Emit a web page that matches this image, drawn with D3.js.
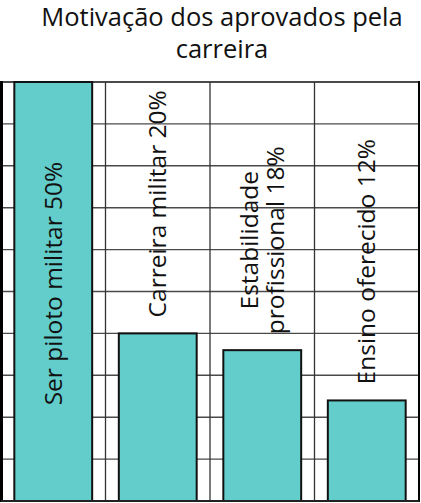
<!DOCTYPE html>
<html>
<head>
<meta charset="utf-8">
<script src="https://cdn.jsdelivr.net/npm/d3@7"></script>
<style>
  body { margin: 0; background: #fff; }
  text { font-family: "Open Sans", sans-serif; fill: #111; }
</style>
</head>
<body>
<svg id="chart"></svg>
<script>
// chart data
var categories = ["Ser piloto militar", "Carreira militar", "Estabilidade profissional", "Ensino oferecido"];
var values = [50, 20, 18, 12];
var labelLines = [
    ["Ser piloto militar 50%"],
    ["Carreira militar 20%"],
    ["Estabilidade", "profissional 18%"],
    ["Ensino oferecido 12%"]
];
var yTicks = [0, 5, 10, 15, 20, 25, 30, 35, 40, 45, 50];
var titleLines = ["Motivação dos aprovados pela", "carreira"];

var width = 421, height = 503;
var svg = d3.select("#chart").attr("width", width).attr("height", height);

// plot area (note: "top" is taken by window.top, so prefix these)
var plotLeft = 1, plotRight = 419, plotTop = 82, plotBottom = 501;

var xScale = d3.scaleBand()
    .domain(categories)
    .range([plotLeft, plotRight])
    .padding(0);

var yScale = d3.scaleLinear()
    .domain([0, 50])
    .range([plotBottom, plotTop]);

var barWidth = xScale.bandwidth() * 0.745;

// title
svg.append("g").selectAll("text")
    .data(titleLines)
    .enter().append("text")
    .attr("x", 222)
    .attr("y", function (d, i) { return 26 + i * 32; })
    .attr("text-anchor", "middle")
    .style("font-size", "25.5px")
    .text(function (d) { return d; });

// horizontal grid
svg.append("g").selectAll("line")
    .data(yTicks)
    .enter().append("line")
    .attr("x1", plotLeft).attr("x2", plotRight)
    .attr("y1", function (d) { return yScale(d); })
    .attr("y2", function (d) { return yScale(d); })
    .attr("stroke", "#4a4a4a")
    .attr("stroke-width", function (d) { return d === 50 ? 2 : 1.4; });

// vertical separators between categories
svg.append("g").selectAll("line")
    .data(categories.slice(1))
    .enter().append("line")
    .attr("x1", function (d) { return xScale(d); })
    .attr("x2", function (d) { return xScale(d); })
    .attr("y1", plotTop).attr("y2", plotBottom)
    .attr("stroke", "#333")
    .attr("stroke-width", 1.3);

// bars
svg.append("g").selectAll("rect")
    .data(values)
    .enter().append("rect")
    .attr("x", function (d, i) { return xScale(categories[i]) + (xScale.bandwidth() - barWidth) / 2; })
    .attr("y", function (d) { return yScale(d); })
    .attr("width", barWidth)
    .attr("height", function (d) { return yScale(0) - yScale(d); })
    .attr("fill", "#62cdca")
    .attr("stroke", "#111")
    .attr("stroke-width", 2);

// frame
svg.append("line").attr("x1", 1.5).attr("x2", 1.5).attr("y1", plotTop - 1).attr("y2", plotBottom + 1)
    .attr("stroke", "#000").attr("stroke-width", 3);
svg.append("line").attr("x1", plotRight).attr("x2", plotRight).attr("y1", plotTop - 1).attr("y2", plotBottom + 1)
    .attr("stroke", "#000").attr("stroke-width", 2);
svg.append("line").attr("x1", plotLeft).attr("x2", plotRight).attr("y1", plotBottom).attr("y2", plotBottom)
    .attr("stroke", "#222").attr("stroke-width", 2);

// rotated labels: above the bar, or inside it when there's no room
var labelSize = 24.5, lineGap = 26, gap = 16;
labelLines.forEach(function (lines, i) {
    var cx = xScale(categories[i]) + xScale.bandwidth() / 2;
    var g = svg.append("g");
    var texts = g.selectAll("text")
        .data(lines)
        .enter().append("text")
        .attr("text-anchor", "middle")
        .style("font-size", labelSize + "px")
        .text(function (d) { return d; });

    var maxLen = d3.max(texts.nodes(), function (n) { return n.getComputedTextLength(); });
    var barTop = yScale(values[i]);
    var cy;
    if (maxLen + gap > barTop - plotTop) {
        cy = (barTop + yScale(0)) / 2 - 8;
    } else {
        cy = barTop - gap - maxLen / 2;
    }
    var n = lines.length;
    texts.attr("transform", function (d, j) {
        var off = (j - (n - 1) / 2) * lineGap;
        var bx = cx + off + labelSize * 0.35;
        return "translate(" + bx + "," + cy + ") rotate(-90)";
    });
});
</script>
</body>
</html>
